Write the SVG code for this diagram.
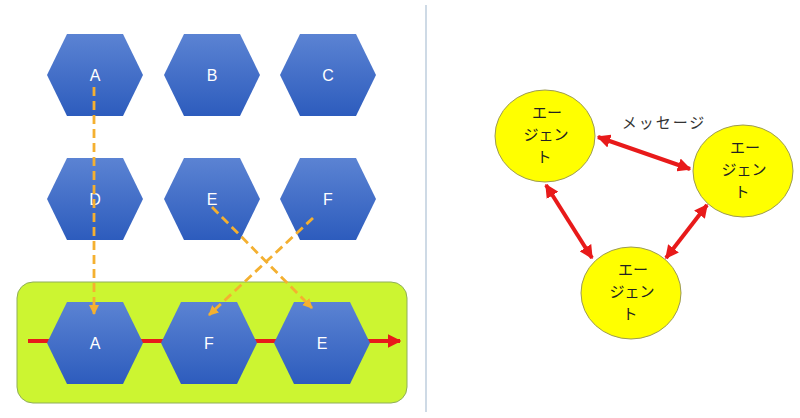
<svg xmlns="http://www.w3.org/2000/svg" width="800" height="418" viewBox="0 0 800 418">
<defs>
<linearGradient id="hexg" x1="0" y1="0" x2="0" y2="1">
<stop offset="0" stop-color="#5b83d3"/>
<stop offset="1" stop-color="#2d5cbd"/>
</linearGradient>
<path id="hex" d="M-48,0 L-28,-41 L28,-41 L48,0 L28,41 L-28,41 Z"/>
<marker id="oarr" viewBox="0 0 10 10" refX="9" refY="5" markerWidth="3.6" markerHeight="3.6" orient="auto" markerUnits="strokeWidth">
<path d="M0,0 L10,5 L0,10 Z" fill="#f4b030"/>
</marker>
<marker id="rarr" viewBox="0 0 10 10" refX="9" refY="5" markerWidth="3.4" markerHeight="3.4" orient="auto-start-reverse" markerUnits="strokeWidth">
<path d="M0,0 L10,5 L0,10 Z" fill="#e81a1a"/>
</marker>
</defs>
<style>
.hx use{fill:url(#hexg);}
.hl{font-family:"Liberation Sans",Arial,sans-serif;font-size:16px;fill:#ffffff;text-anchor:middle;}
.dash{stroke:#f4b030;stroke-width:2.8;stroke-dasharray:9 5;fill:none;}
.red{stroke:#e81a1a;stroke-width:4;fill:none;}
.ag ellipse{fill:#ffff00;stroke:#9c9a55;stroke-width:1;}
.jt{font-family:"Noto Sans CJK JP","Noto Sans",sans-serif;font-size:15px;fill:#222222;text-anchor:middle;}
</style>
<rect x="0" y="0" width="800" height="418" fill="#ffffff"/>
<line x1="426" y1="5" x2="426" y2="412" stroke="#b4c6d8" stroke-width="1.3"/>
<rect id="lane" x="17" y="282" width="390" height="121" rx="16" ry="16" fill="#ccf531" stroke="#8fae5a" stroke-width="1"/>
<line class="red" x1="28" y1="341" x2="400" y2="341" marker-end="url(#rarr)"/>
<g id="hexA1" class="hx"><use href="#hex" x="95" y="75"/><text class="hl" x="95" y="81">A</text></g>
<g id="hexB1" class="hx"><use href="#hex" x="212" y="75"/><text class="hl" x="212" y="81">B</text></g>
<g id="hexC1" class="hx"><use href="#hex" x="328" y="75"/><text class="hl" x="328" y="81">C</text></g>
<g id="hexD2" class="hx"><use href="#hex" x="95" y="199"/><text class="hl" x="95" y="205">D</text></g>
<g id="hexE2" class="hx"><use href="#hex" x="212" y="199"/><text class="hl" x="212" y="205">E</text></g>
<g id="hexF2" class="hx"><use href="#hex" x="328" y="199"/><text class="hl" x="328" y="205">F</text></g>
<g id="hexA3" class="hx"><use href="#hex" x="95" y="343"/><text class="hl" x="95" y="349">A</text></g>
<g id="hexF3" class="hx"><use href="#hex" x="209" y="343"/><text class="hl" x="209" y="349">F</text></g>
<g id="hexE3" class="hx"><use href="#hex" x="322" y="343"/><text class="hl" x="322" y="349">E</text></g>
<g id="connectors">
<line class="dash" x1="94" y1="87" x2="94" y2="314" marker-end="url(#oarr)"/>
<line class="dash" x1="212" y1="207" x2="312" y2="308" marker-end="url(#oarr)"/>
<line class="dash" x1="313" y1="218" x2="209" y2="315" marker-end="url(#oarr)"/>
<line class="red" x1="598" y1="137" x2="690" y2="169" marker-start="url(#rarr)" marker-end="url(#rarr)"/>
<line class="red" x1="546" y1="185" x2="592" y2="258" marker-start="url(#rarr)" marker-end="url(#rarr)"/>
<line class="red" x1="707" y1="205" x2="666" y2="258" marker-start="url(#rarr)" marker-end="url(#rarr)"/>
</g>
<g id="agent1" class="ag"><ellipse cx="545" cy="136" rx="50" ry="46"/>
<text class="jt" x="547" y="118">エー</text><text class="jt" x="546" y="140">ジェン</text><text class="jt" x="544" y="162">ト</text></g>
<g id="agent2" class="ag"><ellipse cx="743" cy="171" rx="50" ry="46"/>
<text class="jt" x="745" y="153">エー</text><text class="jt" x="744" y="175">ジェン</text><text class="jt" x="742" y="197">ト</text></g>
<g id="agent3" class="ag"><ellipse cx="631" cy="293" rx="50" ry="46"/>
<text class="jt" x="633" y="275">エー</text><text class="jt" x="632" y="297">ジェン</text><text class="jt" x="630" y="319">ト</text></g>
<text id="msg" x="664" y="128" font-family="'Noto Sans CJK JP','Noto Sans',sans-serif" font-size="15" fill="#333333" text-anchor="middle" letter-spacing="2">メッセージ</text>
</svg>
